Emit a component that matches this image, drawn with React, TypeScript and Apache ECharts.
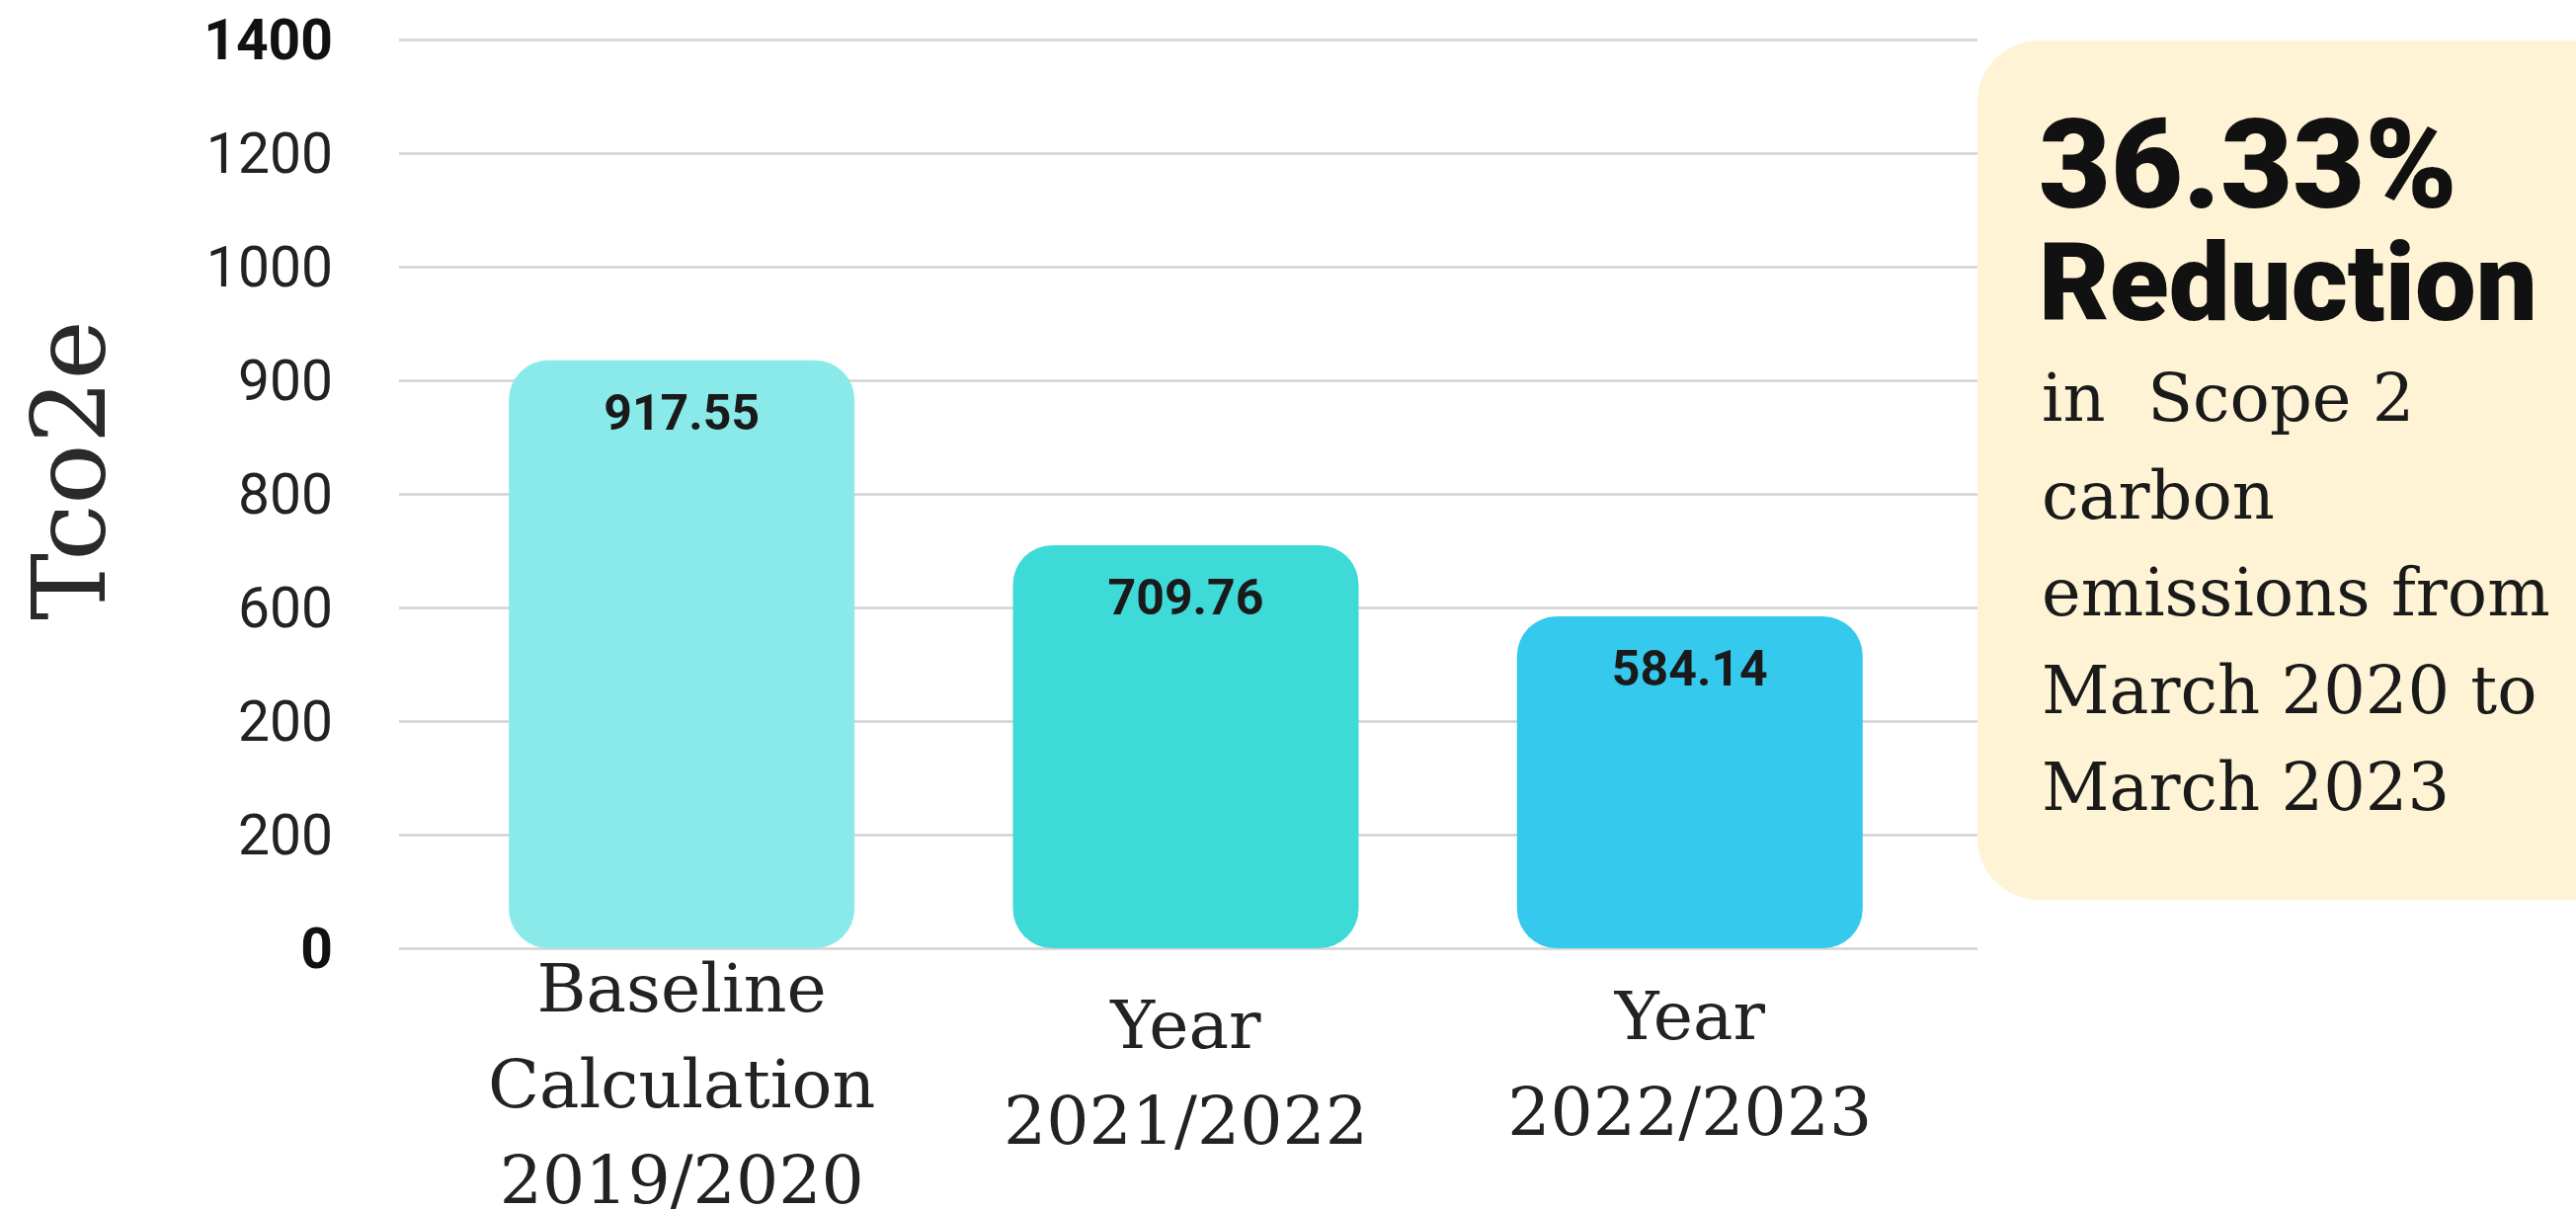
import React, { useEffect, useRef } from 'react';
import * as echarts from 'echarts';

const categories = ['Baseline\nCalculation\n2019/2020', 'Year\n2021/2022', 'Year\n2022/2023'];
const emissions = [917.55, 709.76, 584.14];
const barColors = ['#8AEAE9', '#3EDAD8', '#36C9EE'];
const tickLabels = ['0', '200', '200', '600', '800', '900', '1000', '1200', '1400'];
const tickValues = [0, 200, 400, 600, 800, 900, 1000, 1200, 1400];
const boldTicks = [0, 8];
const headline = ['36.33%', 'Reduction'];
const bodyLines = ['in  Scope 2', 'carbon', 'emissions from', 'March 2020 to', 'March 2023'];
const axisTitle = 'Tco2e';

// map a value onto the (piecewise) tick scale used by the picture
function toTickScale(v: number): number {
  for (let i = 0; i < tickValues.length - 1; i++) {
    if (v <= tickValues[i + 1]) {
      return i + (v - tickValues[i]) / (tickValues[i + 1] - tickValues[i]);
    }
  }
  return tickValues.length - 1;
}

export default function App() {
  const ref = useRef<HTMLDivElement>(null);
  useEffect(() => {
    if (!ref.current) return;
    const chart = echarts.init(ref.current, null, { renderer: 'svg' });
    const yMax = tickValues.length - 1;
    const option: any = {
      animation: false,
      backgroundColor: '#ffffff',
      grid: [
        { left: 404, right: 606, top: 40, bottom: 264, outerBoundsMode: 'none', containLabel: false },
        { left: 435, right: 642, top: 40, bottom: 264, outerBoundsMode: 'none', containLabel: false },
      ],
      xAxis: [
        { type: 'category', gridIndex: 0, data: categories, show: false },
        {
          type: 'category',
          gridIndex: 1,
          data: categories,
          axisLine: { show: false },
          axisTick: { show: false },
          axisLabel: {
            interval: 0,
            margin: 137,
            fontFamily: 'DejaVu Serif',
            fontSize: 68,
            lineHeight: 97,
            color: '#222222',
            verticalAlign: 'middle',
            formatter: (value: string, index: number) =>
              index > 0 ? value + '\n{s' + index + '| }' : value,
            rich: {
              s1: { fontSize: 1, lineHeight: 23 },
              s2: { fontSize: 1, lineHeight: 41 },
            },
          },
        },
      ],
      yAxis: [
        {
          type: 'value',
          gridIndex: 0,
          min: 0,
          max: yMax,
          interval: 1,
          axisLine: { show: false },
          axisTick: { show: false },
          splitLine: { show: true, lineStyle: { color: '#d2d2d2', width: 2.5 } },
          axisLabel: {
            margin: 67,
            fontFamily: 'Roboto',
            fontSize: 57,
            color: '#222222',
            formatter: (v: number) => {
              const i = Math.round(v);
              const t = tickLabels[i] ?? '';
              return boldTicks.includes(i) ? '{b|' + t + '}' : t;
            },
            rich: {
              b: { fontFamily: 'Roboto', fontSize: 57, fontWeight: 'bold', color: '#111111' },
            },
          },
        },
        {
          type: 'value',
          gridIndex: 1,
          min: 0,
          max: yMax,
          interval: 1,
          show: false,
          splitLine: { show: false },
        },
      ],
      series: [
        {
          type: 'bar',
          xAxisIndex: 1,
          yAxisIndex: 1,
          barWidth: 350,
          data: emissions.map((v, i) => ({
            value: toTickScale(v),
            itemStyle: { color: barColors[i], borderRadius: 40 },
          })),
          label: {
            show: true,
            position: 'insideTop',
            distance: 28,
            fontFamily: 'Roboto',
            fontWeight: 'bold',
            fontSize: 50,
            color: '#1a1a1a',
            formatter: (p: any) => emissions[p.dataIndex].toFixed(2),
          },
        },
      ],
      graphic: [
        {
          type: 'text',
          x: 70,
          y: 476,
          rotation: Math.PI / 2,
          style: {
            text: axisTitle,
            fontFamily: 'DejaVu Serif',
            fontSize: 102,
            fill: '#2a2a2a',
            align: 'center',
            verticalAlign: 'middle',
          },
        },
        {
          type: 'rect',
          shape: { x: 2002, y: 41, width: 700, height: 870, r: 62 },
          style: { fill: '#FEF3D5' },
        },
        {
          type: 'text',
          x: 2064,
          y: 167,
          style: {
            text: headline[0],
            fontFamily: 'Roboto',
            fontWeight: 900,
            fontSize: 126,
            lineHeight: 104,
            fill: '#111111',
            verticalAlign: 'middle',
          },
        },
        {
          type: 'text',
          x: 2064,
          y: 286,
          style: {
            text: headline[1],
            fontFamily: 'Roboto',
            fontWeight: 900,
            fontSize: 110,
            lineHeight: 96,
            fill: '#111111',
            verticalAlign: 'middle',
          },
        },
        ...bodyLines.map((t, i) => ({
          type: 'text',
          x: 2067,
          y: 403 + i * 98.5,
          style: {
            text: t,
            fontFamily: 'DejaVu Serif',
            fontSize: 67,
            lineHeight: 90,
            fill: '#1a1a1a',
            verticalAlign: 'middle',
          },
        })),
      ],
    };
    chart.setOption(option);
    return () => chart.dispose();
  }, []);
  return (
    <div
      ref={ref}
      style={{ position: 'fixed', left: 0, top: 0, width: 2608, height: 1224 }}
    />
  );
}
